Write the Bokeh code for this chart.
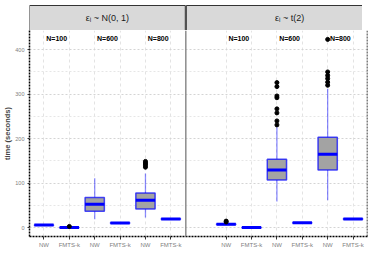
from bokeh.plotting import figure
from bokeh.models import FixedTicker, Range1d, ColumnDataSource, Span
from bokeh.layouts import column
from bokeh.embed import file_html
from bokeh.resources import INLINE
from bokeh.core.properties import value

# ---------------- data ----------------
panels = ["εᵢ ~ N(0, 1)", "εᵢ ~ t(2)"]
sizes = ["N=100", "N=600", "N=800"]
methods = ["NW", "FMTS-k"]
y_ticks = [0, 100, 200, 300, 400]
y_minor = [50, 150, 250, 350]

# box order: panel1 (N100 NW, N100 FMTS-k, N600 NW, N600 FMTS-k, N800 NW, N800 FMTS-k), then panel2
q1 = [5.5, 0.3, 37, 10.0, 42, 19.0, 7.5, 0.2, 107, 10.5, 130, 19.0]
med = [6.0, 0.5, 53, 10.5, 62, 19.5, 8.0, 0.5, 130, 11.0, 165, 19.5]
q3 = [6.5, 0.8, 68, 11.0, 78, 20.0, 8.5, 0.8, 154, 11.5, 203, 20.0]
lo_whisker = [5.0, 0.0, 19, 9.5, 23, 18.5, 7.0, 0.0, 59, 10.0, 62, 18.5]
hi_whisker = [7.5, 1.2, 111, 11.5, 122, 20.5, 9.0, 1.0, 226, 12.0, 312, 20.5]
outliers = [
    [], [3], [], [], [136, 140, 143, 146, 149], [],
    [13, 15], [], [231, 240, 258, 267, 292, 296, 317, 326], [], [320, 327, 335, 342, 350, 423], [],
]

# ---------------- geometry ----------------
PAD = 0.57
GAP = 0.04
STEP = 6 + 2 * PAD + GAP
X0, X1 = -PAD, 5 + STEP + PAD
Y0, Y1 = -19.6, 443
HALF = 0.38

xs = [round(p * STEP + j, 2) for p in range(2) for j in range(6)]
labels = [methods[j % 2] for p in range(2) for j in range(6)]

FW = 338
LB = 20
RB = 4
SANS = "Liberation Sans"

x_range = Range1d(X0, X1)

# ---------------- strip figure ----------------
strip = figure(frame_width=FW, frame_height=26, x_range=x_range, y_range=Range1d(0, 1.04),
               output_backend="svg", toolbar_location=None,
               x_axis_location=None, y_axis_location=None,
               min_border_left=LB, min_border_right=RB, min_border_top=4, min_border_bottom=0)
strip.grid.visible = False
strip.outline_line_color = None
strip.background_fill_color = None
strip.border_fill_color = None
strip.quad(left=[X0, 5 + PAD + GAP], right=[5 + PAD, X1], bottom=[0, 0], top=[1, 1],
           fill_color="#d9d9d9", line_color="#333333", line_width=1)
strip.text(x=[2.5, STEP + 2.5], y=[0.5, 0.5], text=panels, text_align="center",
           text_baseline="middle", text_font_size="9px", text_color="#1a1a1a",
           text_font=value(SANS))

# ---------------- main figure ----------------
p = figure(frame_width=FW, frame_height=206, x_range=x_range, y_range=Range1d(Y0, Y1),
           output_backend="svg", toolbar_location=None,
           min_border_left=LB, min_border_right=RB, min_border_top=0, min_border_bottom=20)
p.outline_line_color = None
p.background_fill_color = "white"

p.yaxis.ticker = FixedTicker(ticks=y_ticks, minor_ticks=y_minor)
p.xaxis.ticker = FixedTicker(ticks=xs, minor_ticks=[])
p.xaxis.major_label_overrides = {x: l for x, l in zip(xs, labels)}

for ax in (p.xaxis[0], p.yaxis[0]):
    ax.axis_line_dash = "2 1"
    ax.axis_line_width = 1.5
    ax.axis_line_color = "black"
    ax.major_tick_line_color = "#333333"
    ax.major_tick_out = 3
    ax.major_tick_in = 0
    ax.minor_tick_line_color = None
    ax.major_label_text_font = SANS
    ax.major_label_text_font_size = "6px"
    ax.major_label_text_color = "#808080"
    ax.major_label_standoff = 2

p.yaxis.axis_label = "time (seconds)"
p.yaxis.axis_label_text_font = SANS
p.yaxis.axis_label_text_font_size = "7.5px"
p.yaxis.axis_label_text_font_style = "bold"
p.yaxis.axis_label_standoff = 0
p.yaxis.major_label_standoff = 1
p.yaxis.major_label_text_font_size = "5.5px"
p.yaxis.major_tick_out = 2

p.ygrid.grid_line_color = "#d4d4d4"
p.ygrid.grid_line_dash = "2 2"
p.ygrid.minor_grid_line_color = "#e6e6e6"
p.ygrid.minor_grid_line_dash = "2 2"
p.xgrid.grid_line_color = "#e3e3e3"
p.xgrid.grid_line_dash = "3 3"

p.add_layout(Span(location=5 + PAD + GAP / 2, dimension="height", line_color="#8c8c8c", line_width=1.5))
p.add_layout(Span(location=X1, dimension="height", line_color="black", line_width=1.5, line_dash="2 1"))

src = ColumnDataSource(dict(x=xs, left=[x - HALF for x in xs], right=[x + HALF for x in xs],
                            q1=q1, q3=q3, med=med, lo=lo_whisker, hi=hi_whisker))
p.segment(x0="x", y0="q3", x1="x", y1="hi", source=src, line_color="#0000ff", line_alpha=0.45, line_width=1.3)
p.segment(x0="x", y0="lo", x1="x", y1="q1", source=src, line_color="#0000ff", line_alpha=0.45, line_width=1.3)
p.quad(left="left", right="right", bottom="q1", top="q3", source=src,
       fill_color="#a3a3a3", line_color="#0000ff", line_alpha=0.7, line_width=1.5)
p.segment(x0="left", y0="med", x1="right", y1="med", source=src, line_color="#0000ff", line_width=3)

ox, oy = [], []
for x, outs in zip(xs, outliers):
    for o in outs:
        ox.append(x)
        oy.append(o)
p.scatter(ox, oy, size=4, color="black")

nx = [round(pi * STEP + 2 * k + 0.5, 2) for pi in range(2) for k in range(3)]
p.text(x=nx, y=[Y1] * 6, text=sizes * 2, text_align="center", text_baseline="middle",
       y_offset=8, text_font_size="7px", text_font_style="bold", text_color="black",
       text_font=value(SANS))

layout = column(strip, p, spacing=0)
open("out.html", "w").write(file_html(layout, INLINE))
